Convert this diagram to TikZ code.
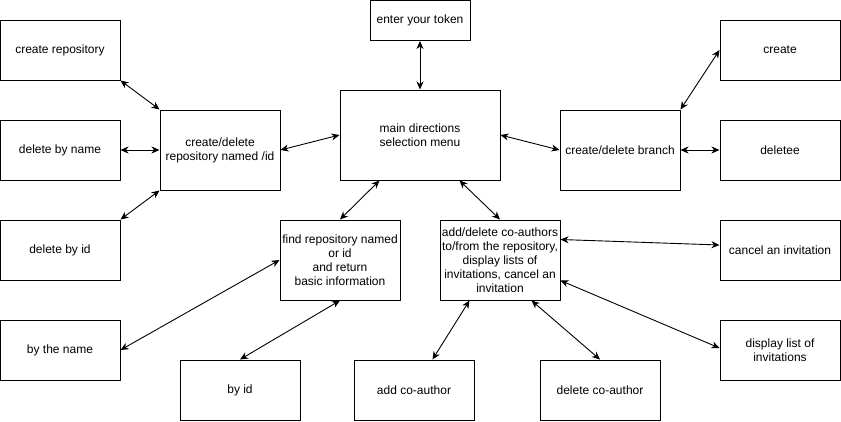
\documentclass[tikz,border=0pt]{standalone}
\usepackage{fontspec}
\setmainfont{Liberation Sans}
\usetikzlibrary{arrows.meta,calc}
\begin{document}
\begin{tikzpicture}[x=1pt,y=-1pt,
 box/.style={draw, line width=1pt, minimum width=120pt, minimum height=60pt, inner sep=0pt, align=center, font=\fontsize{12}{14}\selectfont},
 tip/.style={Stealth[length=8pt,width=7pt,inset=2.5pt]},
 link/.style={line width=0.9pt, {Stealth[length=8pt,width=7pt,inset=2.5pt]}-{Stealth[length=8pt,width=7pt,inset=2.5pt]}}]
\useasboundingbox (0,0) rectangle (841,421);
\fill[white] (0,0) rectangle (841,421);

\node[box] (crepo) at (60,50) {create repository};
\node[box] (dname) at (60,150) {delete by name};
\node[box] (did) at (60,250) {delete by id};
\node[box, minimum height=80pt] (cdr) at (220,150) {create/delete\\repository named /id};
\node[box, minimum width=100pt, minimum height=40pt] (token) at (420,20.5) {enter your token};
\node[box, minimum width=160pt, minimum height=90pt] (main) at (420,135) {main directions\\selection menu};
\node[box, minimum height=80pt] (branch) at (620,150) {create/delete branch};
\node[box] (create) at (780,50) {create};
\node[box] (deletee) at (780,150) {deletee};
\node[box, minimum height=80pt] (find) at (340,260) {find repository named\\or id\\and return\\basic information};
\node[box, minimum height=80pt] (coauth) at (500,260) {add/delete co-authors\\to/from the repository,\\display lists of\\invitations, cancel an\\invitation};
\node[box] (cancel) at (780,250) {cancel an invitation};
\node[box] (byname) at (60,350) {by the name};
\node[box] (byid) at (240,390) {by id};
\node[box] (addco) at (414,390) {add co-author};
\node[box] (delco) at (600,390) {delete co-author};
\node[box] (display) at (780,350) {display list of\\invitations};

\draw[link] (crepo.south east) -- (cdr.north west);
\draw[link] (dname.east) -- (cdr.west);
\draw[link] (did.north east) -- (cdr.south west);
\draw[link] (cdr.east) -- (main.west);
\draw[link] (token.south) -- (main.north);
\draw[link] (main.east) -- (branch.west);
\draw[link] (branch.north east) -- (create.west);
\draw[link] (branch.east) -- (deletee.west);
\draw[link] ($(main.south west)+(40,0)$) -- (find.north);
\draw[link] ($(main.south west)+(120,0)$) -- (coauth.north);
\draw[link] (find.west) -- (byname.east);
\draw[link] (find.south) -- (byid.north);
\draw[link] ($(coauth.south west)+(30,0)$) -- ($(addco.north west)+(79,0)$);
\draw[link] ($(coauth.south west)+(92,0)$) -- (delco.north);
\draw[link] ($(coauth.north east)+(0,20)$) -- ($(cancel.west)+(0,-5)$);
\draw[link] ($(coauth.south east)+(0,-20)$) -- ($(display.west)+(0,-2)$);
\end{tikzpicture}
\end{document}
